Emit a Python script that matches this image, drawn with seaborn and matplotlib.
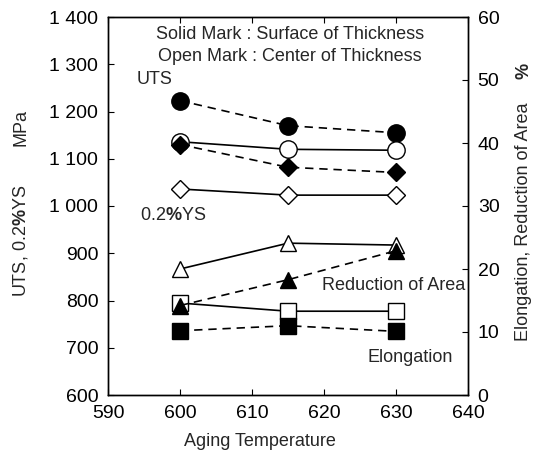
import matplotlib
matplotlib.use("Agg")
import matplotlib.pyplot as plt
import seaborn as sns
import numpy as np

sns.set_style("ticks")
plt.rcParams['font.family'] = ['Liberation Sans', 'DejaVu Sans']
plt.rcParams['mathtext.fontset'] = 'custom'
plt.rcParams['mathtext.rm'] = 'Liberation Sans'
plt.rcParams['mathtext.bf'] = 'Liberation Sans:bold'

temps = [600, 615, 630]
uts_surface = [1223, 1170, 1155]
uts_center = [1136, 1120, 1118]
ys_surface = [1130, 1082, 1071]
ys_center = [1036, 1023, 1023]
ra_center = [20.0, 24.1, 23.8]
ra_surface = [14.2, 18.3, 22.9]
el_center = [14.6, 13.3, 13.3]
el_surface = [10.2, 11.0, 10.1]

x_ticks = [590, 600, 610, 620, 630, 640]
left_ticks = [600, 700, 800, 900, 1000, 1100, 1200, 1300, 1400]
left_labels = ["600", "700", "800", "900", "1 000", "1 100", "1 200", "1 300", "1 400"]
right_ticks = [0, 10, 20, 30, 40, 50, 60]

fig = plt.figure(figsize=(5.41, 4.54), dpi=100)
ax = fig.add_axes([108/541, 1-395/454, 360/541, 378/454])
ax2 = ax.twinx()

def series(a, y, marker, filled, dashed, ms):
    sns.lineplot(x=temps, y=y, ax=a, color='black', linewidth=1.2,
                 linestyle='--' if dashed else '-', marker=marker,
                 markersize=ms, markerfacecolor='black' if filled else 'white',
                 markeredgecolor='black', markeredgewidth=1.0, legend=False)

series(ax, uts_surface, 'o', True, True, 12.5)
series(ax, uts_center, 'o', False, False, 12.5)
series(ax, ys_surface, 'D', True, True, 9.5)
series(ax, ys_center, 'D', False, False, 9.5)
series(ax2, el_center, 's', False, False, 11)
series(ax2, el_surface, 's', True, True, 11)
series(ax2, ra_center, '^', False, False, 12)
series(ax2, ra_surface, '^', True, True, 12)

for line in ax.lines + ax2.lines:
    if line.get_linestyle() == '--':
        line.set_dashes((5, 3.5))

ax.set_xlim(590, 640)
ax.set_ylim(600, 1400)
ax2.set_ylim(0, 60)
ax.set_xticks(x_ticks)
ax.set_yticks(left_ticks)
ax.set_yticklabels(left_labels)
ax2.set_yticks(right_ticks)
for a in (ax, ax2):
    for s in a.spines.values():
        s.set_visible(True)
        s.set_linewidth(1.0)
        s.set_color('black')
ax.tick_params(axis='both', direction='in', labelsize=14, length=4, colors='black', top=True, pad=7)
ax2.tick_params(axis='y', direction='in', labelsize=14, length=4, colors='black', pad=7)
ax.set_xlabel("Aging Temperature", fontsize=13)
ax.xaxis.set_label_coords((260-108)/360, (395-442)/378)
ax.xaxis.label.set_va('center')

fs = 13
ax.text(0.505, 0.955, "Solid Mark : Surface of Thickness", transform=ax.transAxes, ha='center', va='center', fontsize=fs)
ax.text(0.505, 0.895, "Open Mark : Center of Thickness", transform=ax.transAxes, ha='center', va='center', fontsize=fs)
ax.text(0.08, 0.835, "UTS", transform=ax.transAxes, ha='left', va='center', fontsize=fs)
ax.text(0.09, 0.475, r"0.2$\mathbf{\%}$YS", transform=ax.transAxes, ha='left', va='center', fontsize=fs)
ax.text(0.595, 0.29, "Reduction of Area", transform=ax.transAxes, ha='left', va='center', fontsize=fs)
ax.text(0.72, 0.10, "Elongation", transform=ax.transAxes, ha='left', va='center', fontsize=fs)

fig.text(21/541, 1-241/454, r"UTS, 0.2$\mathbf{\%}$YS", rotation=90, ha='center', va='center', fontsize=fs)
fig.text(21/541, 1-127/454, "MPa", rotation=90, ha='center', va='center', fontsize=fs)
fig.text(524/541, 1-222/454, "Elongation, Reduction of Area", rotation=90, ha='center', va='center', fontsize=fs)
fig.text(524/541, 1-71/454, "%", rotation=90, ha='center', va='center', fontsize=fs, fontweight='bold')

fig.savefig("out.png", dpi=100)
